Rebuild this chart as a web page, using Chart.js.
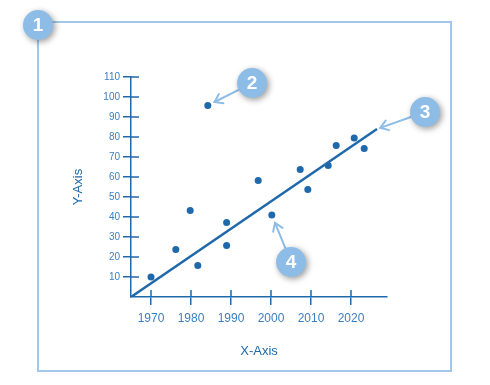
<!DOCTYPE html>
<html>
<head>
<meta charset="utf-8">
<script src="https://cdn.jsdelivr.net/npm/chart.js@4"></script>
<style>
html, body { margin: 0; padding: 0; background: #fff; }
</style>
</head>
<body>
<canvas id="myChart" width="490" height="385"></canvas>
<script>
let xValues = [1970, 1976.2, 1979.8, 1981.7, 1984.2, 1988.9, 1988.9, 1996.8, 2000.2, 2007.3, 2009.2, 2014.3, 2016.3, 2020.8, 2023.3]
let yValues = [10, 23.8, 43.3, 15.8, 95.8, 37.3, 25.8, 58.3, 41, 63.8, 53.8, 65.8, 75.8, 79.5, 74.3]
let trendX = [1965, 2026.5]
let trendY = [0, 84]
let xTicks = [1970, 1980, 1990, 2000, 2010, 2020]
let yTicks = [10, 20, 30, 40, 50, 60, 70, 80, 90, 100, 110]

const dark = "#1f69ab";
const labelColor = "#3b80c2";
const light = "#8dbde6";

const points = xValues.map((x, i) => ({x: x, y: yValues[i]}));
const trend = trendX.map((x, i) => ({x: x, y: trendY[i]}));

// badge centers and what each arrow points at (data coords)
const badges = [
    {n: "1", x: 38, y: 25},
    {n: "2", x: 252, y: 83, to: {x: xValues[4], y: yValues[4]}, gap: 7.5},
    {n: "3", x: 425, y: 112, to: {x: trendX[1], y: trendY[1]}, gap: 3.5},
    {n: "4", x: 291, y: 262, to: {x: xValues[8], y: yValues[8]}, gap: 8.5}
];

const extras = {
    id: "extras",
    beforeDraw(chart) {
        const ctx = chart.ctx;
        ctx.save();
        ctx.strokeStyle = "#a3c7e9";
        ctx.lineWidth = 2;
        ctx.strokeRect(38, 22, 413, 349);
        ctx.restore();
    },
    afterDatasetsDraw(chart) {
        const ctx = chart.ctx;
        const xs = chart.scales.x, ys = chart.scales.y;
        ctx.save();
        ctx.strokeStyle = dark;
        ctx.lineWidth = 1.5;
        // inward half of the tick marks
        xTicks.forEach(v => {
            const px = xs.getPixelForValue(v);
            ctx.beginPath();
            ctx.moveTo(px, xs.top);
            ctx.lineTo(px, xs.top - 7);
            ctx.stroke();
        });
        yTicks.forEach(v => {
            const py = ys.getPixelForValue(v);
            ctx.beginPath();
            ctx.moveTo(ys.right, py);
            ctx.lineTo(ys.right + 8, py);
            ctx.stroke();
        });
        ctx.restore();
    },
    afterDraw(chart) {
        const ctx = chart.ctx;
        const xs = chart.scales.x, ys = chart.scales.y;
        const r = 15;
        ctx.save();
        // arrows
        badges.forEach(b => {
            if (!b.to) return;
            const px = xs.getPixelForValue(b.to.x);
            const py = ys.getPixelForValue(b.to.y);
            const dx = b.x - px, dy = b.y - py;
            const len = Math.sqrt(dx * dx + dy * dy);
            const ux = dx / len, uy = dy / len;
            const tx = px + ux * b.gap, ty = py + uy * b.gap;
            const sx = b.x - ux * r, sy = b.y - uy * r;
            ctx.strokeStyle = light;
            ctx.lineWidth = 2;
            ctx.lineCap = "round";
            ctx.beginPath();
            ctx.moveTo(sx, sy);
            ctx.lineTo(tx, ty);
            ctx.stroke();
            const a = Math.atan2(uy, ux);
            const h = 9, spread = 0.6;
            ctx.beginPath();
            ctx.moveTo(tx + h * Math.cos(a + spread), ty + h * Math.sin(a + spread));
            ctx.lineTo(tx, ty);
            ctx.lineTo(tx + h * Math.cos(a - spread), ty + h * Math.sin(a - spread));
            ctx.stroke();
        });
        // badges
        badges.forEach(b => {
            ctx.save();
            ctx.shadowColor = "rgba(0,0,0,0.4)";
            ctx.shadowBlur = 6;
            ctx.shadowOffsetX = 2;
            ctx.shadowOffsetY = 2;
            ctx.fillStyle = light;
            ctx.beginPath();
            ctx.arc(b.x, b.y, r, 0, Math.PI * 2);
            ctx.fill();
            ctx.restore();
            ctx.fillStyle = "#fff";
            ctx.font = "bold 19px Arial, 'Liberation Sans', sans-serif";
            ctx.textAlign = "center";
            ctx.textBaseline = "middle";
            ctx.fillText(b.n, b.x, b.y + 1);
        });
        ctx.restore();
    }
};

new Chart("myChart", {
    type: "scatter",
    data: {
        datasets: [{
            data: points,
            backgroundColor: dark,
            borderWidth: 0,
            pointRadius: 3.5
        }, {
            type: "line",
            data: trend,
            borderColor: dark,
            borderWidth: 2.5,
            pointRadius: 0,
            fill: false
        }]
    },
    options: {
        responsive: false,
        animation: false,
        layout: {padding: {top: 77, right: 103, bottom: 0, left: 0}},
        plugins: {legend: {display: false}, tooltip: {enabled: false}},
        scales: {
            x: {
                type: "linear",
                min: 1965,
                max: 2029,
                afterBuildTicks: s => { s.ticks = xTicks.map(v => ({value: v})) },
                afterFit: s => { s.height = 88 },
                border: {color: dark, width: 1.5},
                grid: {drawOnChartArea: false, tickLength: 8, color: dark, lineWidth: 1.5},
                ticks: {
                    color: labelColor,
                    font: {size: 12, family: "Arial, 'Liberation Sans', sans-serif"},
                    padding: 6,
                    maxRotation: 0,
                    autoSkip: false,
                    callback: v => String(v)
                },
                title: {
                    display: true,
                    text: "X-Axis",
                    color: dark,
                    font: {size: 13, family: "Arial, 'Liberation Sans', sans-serif"},
                    padding: {top: 4, bottom: 26}
                }
            },
            y: {
                min: 0,
                max: 110,
                afterBuildTicks: s => { s.ticks = yTicks.map(v => ({value: v})) },
                afterFit: s => { s.width = 131 },
                border: {color: dark, width: 1.5},
                grid: {drawOnChartArea: false, tickLength: 8, color: dark, lineWidth: 1.5},
                ticks: {
                    color: labelColor,
                    font: {size: 10, family: "Arial, 'Liberation Sans', sans-serif"},
                    padding: 3,
                    autoSkip: false,
                    callback: v => String(v)
                },
                title: {
                    display: true,
                    text: "Y-Axis",
                    color: dark,
                    font: {size: 13, family: "Arial, 'Liberation Sans', sans-serif"},
                    padding: {top: 71, bottom: 4}
                }
            }
        }
    },
    plugins: [extras]
});
</script>
</body>
</html>
